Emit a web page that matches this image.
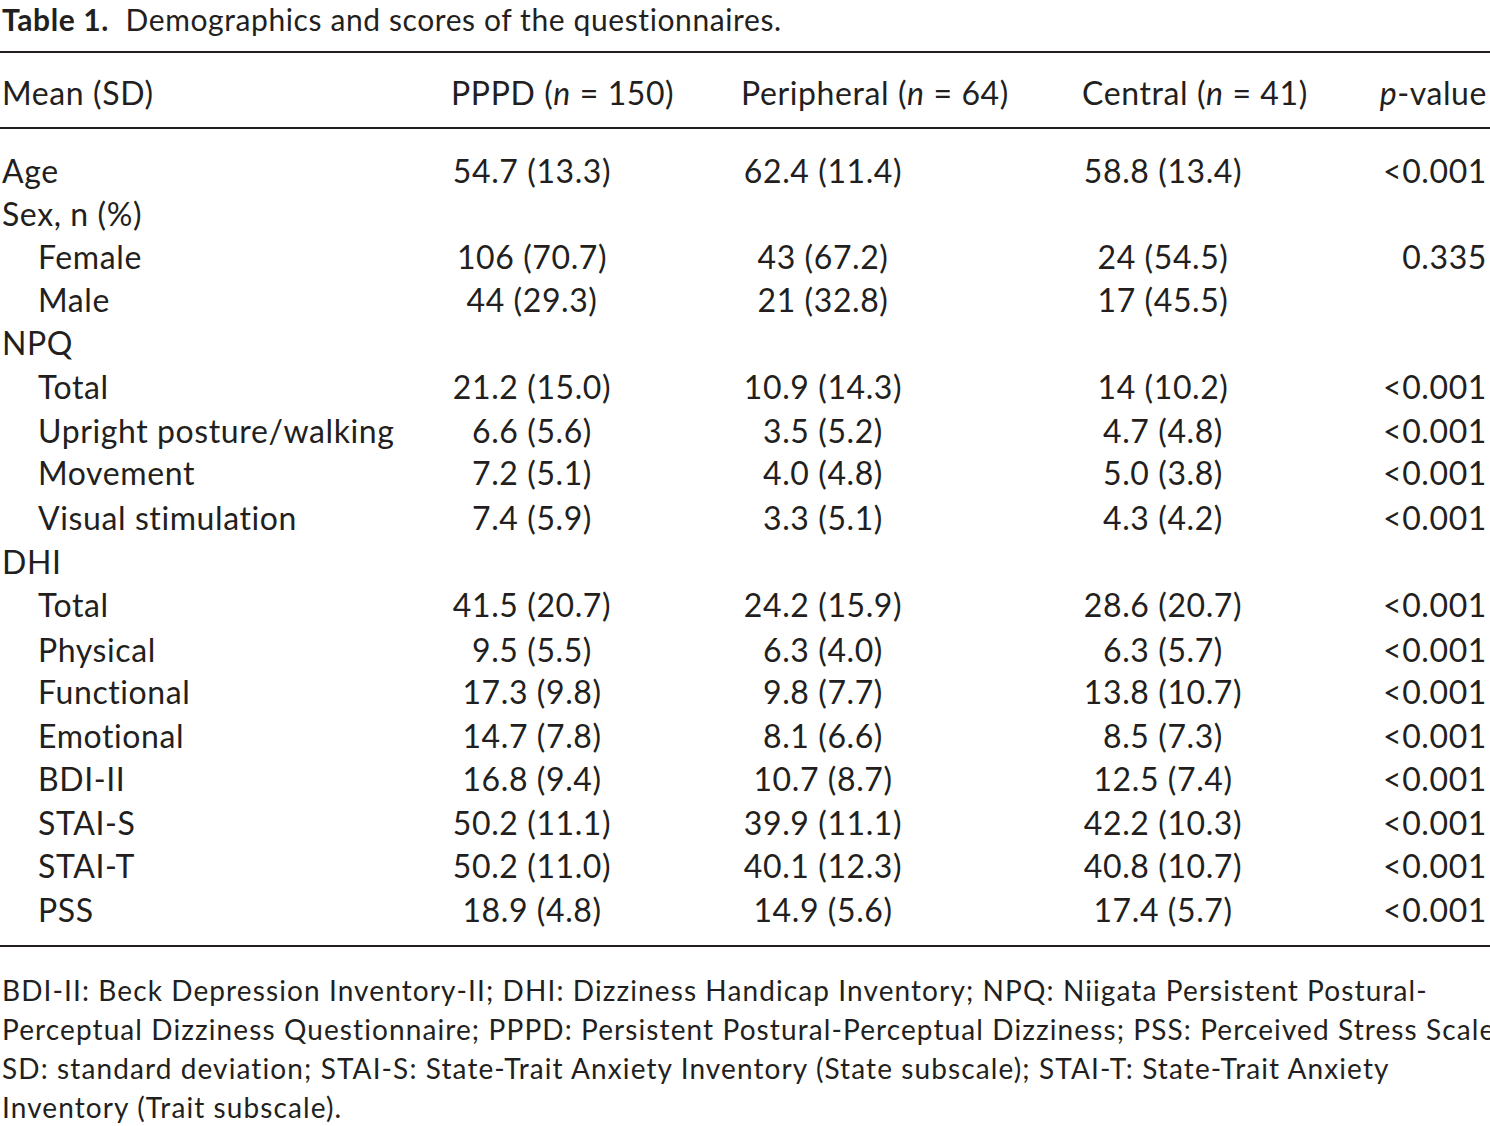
<!DOCTYPE html>
<html><head><meta charset="utf-8">
<script src="https://cdn.jsdelivr.net/npm/chart.js@4"></script>
<style>
body{margin:0;width:1490px;height:1126px;background:#fff;font-family:Lato,"Open Sans",sans-serif;color:#231f20;position:relative;overflow:hidden}
.t{position:absolute;white-space:nowrap;font-size:32px;line-height:1.3;transform:translateY(-50%);letter-spacing:0.6px}
.rule{position:absolute;left:0;width:1490px;background:#231f20}
.c{text-align:center;width:300px}
.r{text-align:right}
.fn{position:absolute;left:2px;font-size:28px;line-height:1.3;white-space:nowrap;transform:translateY(-50%);letter-spacing:1.1px}
</style></head><body>
<div id="root"></div>
<script>
const labels=["Age","Sex, n (%)","Female","Male","NPQ","Total","Upright posture/walking","Movement","Visual stimulation","DHI","Total","Physical","Functional","Emotional","BDI-II","STAI-S","STAI-T","PSS"];
const indent=[0,0,1,1,0,1,1,1,1,0,1,1,1,1,1,1,1,1];
const pppd=["54.7 (13.3)","","106 (70.7)","44 (29.3)","","21.2 (15.0)","6.6 (5.6)","7.2 (5.1)","7.4 (5.9)","","41.5 (20.7)","9.5 (5.5)","17.3 (9.8)","14.7 (7.8)","16.8 (9.4)","50.2 (11.1)","50.2 (11.0)","18.9 (4.8)"];
const peripheral=["62.4 (11.4)","","43 (67.2)","21 (32.8)","","10.9 (14.3)","3.5 (5.2)","4.0 (4.8)","3.3 (5.1)","","24.2 (15.9)","6.3 (4.0)","9.8 (7.7)","8.1 (6.6)","10.7 (8.7)","39.9 (11.1)","40.1 (12.3)","14.9 (5.6)"];
const central=["58.8 (13.4)","","24 (54.5)","17 (45.5)","","14 (10.2)","4.7 (4.8)","5.0 (3.8)","4.3 (4.2)","","28.6 (20.7)","6.3 (5.7)","13.8 (10.7)","8.5 (7.3)","12.5 (7.4)","42.2 (10.3)","40.8 (10.7)","17.4 (5.7)"];
const pvals=["<0.001","","0.335","","","<0.001","<0.001","<0.001","<0.001","","<0.001","<0.001","<0.001","<0.001","<0.001","<0.001","<0.001","<0.001"];
const rowY=[171,214,257,300,343,387,431,473,518,562,605,650,692,736,779,823,866,910];
const footnote=["BDI-II: Beck Depression Inventory-II; DHI: Dizziness Handicap Inventory; NPQ: Niigata Persistent Postural-","Perceptual Dizziness Questionnaire; PPPD: Persistent Postural-Perceptual Dizziness; PSS: Perceived Stress Scale;","SD: standard deviation; STAI-S: State-Trait Anxiety Inventory (State subscale); STAI-T: State-Trait Anxiety","Inventory (Trait subscale)."];
const esc=s=>s.replace(/&/g,"&amp;").replace(/</g,"&lt;");
let h='';
h+='<div class="t" style="left:2px;top:19px;font-size:30px"><b>Table 1.</b>&nbsp; Demographics and scores of the questionnaires.</div>';
h+='<div class="rule" style="top:51px;height:2px"></div>';
h+='<div class="t" style="left:2px;top:93px">Mean (SD)</div>';
h+='<div class="t" style="left:451px;top:93px">PPPD (<i>n</i> = 150)</div>';
h+='<div class="t" style="left:741px;top:93px">Peripheral (<i>n</i> = 64)</div>';
h+='<div class="t" style="left:1082px;top:93px">Central (<i>n</i> = 41)</div>';
h+='<div class="t r" style="right:3px;top:93px"><i>p</i>-value</div>';
h+='<div class="rule" style="top:127px;height:2px"></div>';
labels.forEach((l,i)=>{const y=rowY[i];
h+=`<div class="t" style="left:${indent[i]?38:2}px;top:${y}px">${esc(l)}</div>`;
h+=`<div class="t c" style="left:382px;top:${y}px">${esc(pppd[i])}</div>`;
h+=`<div class="t c" style="left:673px;top:${y}px">${esc(peripheral[i])}</div>`;
h+=`<div class="t c" style="left:1013px;top:${y}px">${esc(central[i])}</div>`;
h+=`<div class="t r" style="right:3px;top:${y}px">${esc(pvals[i])}</div>`;});
h+='<div class="rule" style="top:945px;height:2px"></div>';
footnote.forEach((f,i)=>{h+=`<div class="fn" style="top:${990+i*39}px">${esc(f)}</div>`;});
document.getElementById('root').innerHTML=h;
</script>
</body></html>
